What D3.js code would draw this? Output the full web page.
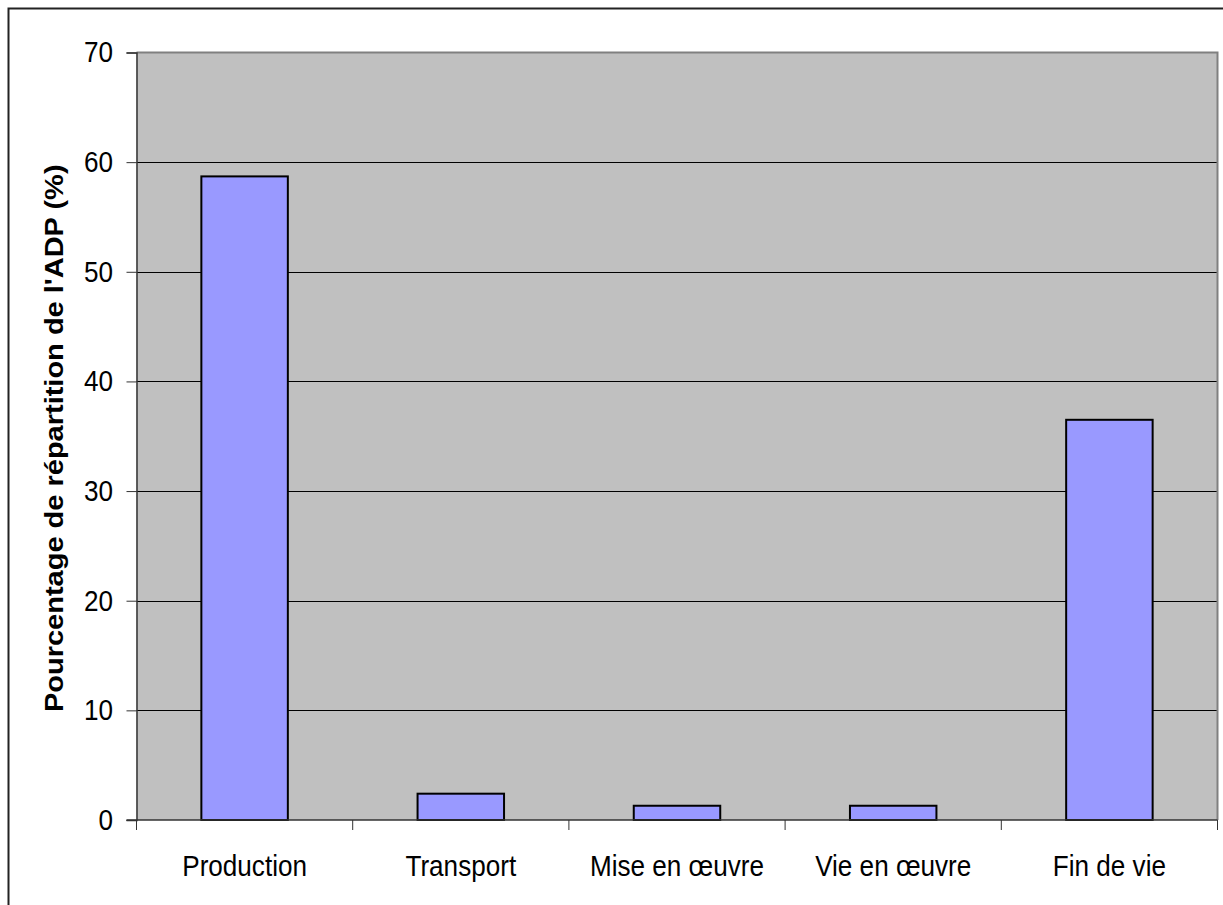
<!DOCTYPE html>
<html>
<head>
<meta charset="utf-8">
<script src="https://cdn.jsdelivr.net/npm/d3@7"></script>
<style>
  body { margin: 0; background: #ffffff; }
  svg text { font-family: "Liberation Sans", Arial, sans-serif; fill: #000; }
  .tick-label { font-size: 29px; }
  .axis-title { font-size: 29px; font-weight: bold; }
</style>
</head>
<body>
<div id="app"></div>
<script>
// data
const categories = ["Production", "Transport", "Mise en œuvre", "Vie en œuvre", "Fin de vie"];
const values = [58.7, 2.4, 1.3, 1.3, 36.5];
const yTicks = [0, 10, 20, 30, 40, 50, 60, 70];
const yTitle = "Pourcentage de répartition de l'ADP (%)";

// basic settings of chart
const chartSettings = {
  width: 1223,
  height: 905,
  left: 136.5,
  right: 1217.5,
  top: 52.5,
  bottom: 820,
  tickSize: 10,
  barPadding: 0.6,
  textSquash: 0.9, // the reference type is a little narrow
};

const svg = d3
  .select("#app")
  .append("svg")
  .attr("width", chartSettings.width)
  .attr("height", chartSettings.height);

//outer frame of the chart area
svg
  .append("rect")
  .attr("x", 8.5)
  .attr("y", 8.5)
  .attr("width", chartSettings.width)
  .attr("height", chartSettings.height)
  .attr("fill", "none")
  .attr("stroke", "#222")
  .attr("stroke-width", 2);

const xScale = d3
  .scaleBand()
  .domain(categories)
  .range([chartSettings.left, chartSettings.right])
  .paddingInner(chartSettings.barPadding)
  .paddingOuter(chartSettings.barPadding / 2);

const yScale = d3
  .scaleLinear()
  .domain([0, 70])
  .range([chartSettings.bottom, chartSettings.top]);

//plot background
svg
  .append("rect")
  .attr("x", chartSettings.left)
  .attr("y", chartSettings.top)
  .attr("width", chartSettings.right - chartSettings.left)
  .attr("height", chartSettings.bottom - chartSettings.top)
  .attr("fill", "#c0c0c0");

//gridlines
svg
  .append("g")
  .selectAll("line")
  .data(yTicks.filter((d) => d > 0 && d < 70))
  .join("line")
  .attr("x1", chartSettings.left)
  .attr("x2", chartSettings.right)
  .attr("y1", (d) => Math.round(yScale(d)) + 0.5)
  .attr("y2", (d) => Math.round(yScale(d)) + 0.5)
  .attr("stroke", "#000")
  .attr("stroke-width", 1);

//plot border, top and right in grey
svg
  .append("path")
  .attr(
    "d",
    `M${chartSettings.left},${chartSettings.top}H${chartSettings.right}V${chartSettings.bottom}`
  )
  .attr("fill", "none")
  .attr("stroke", "#808080")
  .attr("stroke-width", 2);

//bars
svg
  .append("g")
  .selectAll("rect")
  .data(categories)
  .join("rect")
  .attr("x", (d) => xScale(d))
  .attr("y", (d, i) => yScale(values[i]))
  .attr("width", xScale.bandwidth())
  .attr("height", (d, i) => yScale(0) - yScale(values[i]))
  .attr("fill", "#9999ff")
  .attr("stroke", "#000")
  .attr("stroke-width", 2);

//y axis
const yAxis = svg
  .append("g")
  .attr("transform", `translate(${chartSettings.left},0)`)
  .call(
    d3.axisLeft(yScale).tickValues(yTicks).tickSize(chartSettings.tickSize).tickPadding(16)
  );
yAxis.select(".domain").attr("stroke", "#333").attr("stroke-width", 1.5);
yAxis.selectAll(".tick line").attr("stroke", "#333");
yAxis
  .selectAll(".tick text")
  .attr("class", "tick-label")
  .attr("font-size", null)
  .attr("font-family", null)
  .attr("fill", "#000")
  .attr("transform", `scale(${chartSettings.textSquash},1)`);

//x axis with ticks on category boundaries
const xAxis = svg
  .append("g")
  .attr("transform", `translate(0,${chartSettings.bottom})`);
xAxis
  .append("line")
  .attr("x1", chartSettings.left - chartSettings.tickSize)
  .attr("x2", chartSettings.right)
  .attr("stroke", "#333")
  .attr("stroke-width", 1.5);
const step = xScale.step();
xAxis
  .selectAll("line.boundary")
  .data(d3.range(categories.length + 1))
  .join("line")
  .attr("class", "boundary")
  .attr("x1", (i) => chartSettings.left + i * step)
  .attr("x2", (i) => chartSettings.left + i * step)
  .attr("y1", 0)
  .attr("y2", chartSettings.tickSize)
  .attr("stroke", "#333");
xAxis
  .selectAll("text")
  .data(categories)
  .join("text")
  .attr("class", "tick-label")
  .attr(
    "transform",
    (d) =>
      `translate(${xScale(d) + xScale.bandwidth() / 2},56) scale(${chartSettings.textSquash},1)`
  )
  .attr("text-anchor", "middle")
  .text((d) => d);

//y axis title
svg
  .append("text")
  .attr("class", "axis-title")
  .attr(
    "transform",
    `translate(63,${(chartSettings.top + chartSettings.bottom) / 2 + 2}) rotate(-90) scale(1,${chartSettings.textSquash})`
  )
  .attr("text-anchor", "middle")
  .text(yTitle);
</script>
</body>
</html>
